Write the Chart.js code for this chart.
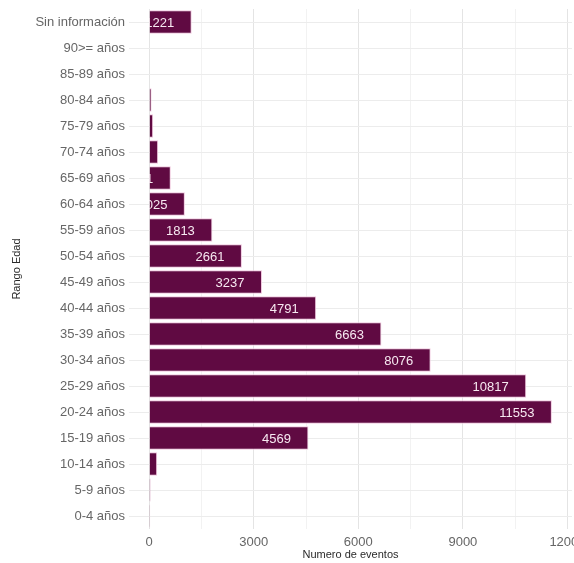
<!DOCTYPE html>
<html><head><meta charset="utf-8">
<script src="https://cdn.jsdelivr.net/npm/chart.js@4/dist/chart.umd.min.js"></script>
<style>html,body{margin:0;padding:0;background:#fff}</style>
</head><body>
<canvas id="c" width="574" height="563"></canvas>
<script>
const categories = ["Sin información","90>= años","85-89 años","80-84 años","75-79 años","70-74 años","65-69 años","60-64 años","55-59 años","50-54 años","45-49 años","40-44 años","35-39 años","30-34 años","25-29 años","20-24 años","15-19 años","10-14 años","5-9 años","0-4 años"];
const eventos = [1221, 0, 0, 70, 115, 258, 621, 1025, 1813, 2661, 3237, 4791, 6663, 8076, 10817, 11553, 4569, 230, 40, 30];
const xTickLabels = [0, 3000, 6000, 9000, 12000];
const xTitle = "Numero de eventos";
const yTitle = "Rango Edad";

const FONT = '"Liberation Sans", Arial, sans-serif';

const labelPlugin = {
  id: 'vals',
  afterDatasetsDraw(chart) {
    const {ctx, chartArea, scales: {x}} = chart;
    const meta = chart.getDatasetMeta(0);
    const x0 = x.getPixelForValue(0);
    ctx.save();
    ctx.beginPath();
    ctx.rect(x0, chartArea.top, chartArea.right - x0, chartArea.bottom - chartArea.top);
    ctx.clip();
    ctx.fillStyle = '#f7e9f1';
    ctx.font = '13px ' + FONT;
    ctx.textAlign = 'right';
    ctx.textBaseline = 'middle';
    meta.data.forEach((bar, i) => {
      ctx.fillText(String(eventos[i]), bar.x - 17.5, bar.y + 1);
    });
    ctx.restore();
  }
};

// grid positions: major ticks plus the midpoints between them (minor lines)
const xGrid = [];
xTickLabels.forEach((v, i) => {
  xGrid.push(v);
  if (i < xTickLabels.length - 1) xGrid.push((v + xTickLabels[i + 1]) / 2);
});

new Chart(document.getElementById('c'), {
  type: 'bar',
  data: {
    labels: categories,
    datasets: [{
      data: eventos,
      backgroundColor: '#600a42',
      borderColor: '#efc6dd',
      borderWidth: 1,
      borderSkipped: 'start',
      barPercentage: 0.9,
      categoryPercentage: 1
    }]
  },
  options: {
    indexAxis: 'y',
    responsive: false,
    animation: false,
    devicePixelRatio: 1,
    layout: {padding: {top: 9, right: 2, left: 0, bottom: 0}},
    plugins: {legend: {display: false}, tooltip: {enabled: false}},
    scales: {
      x: {
        type: 'linear', min: -578, max: 12130,
        afterBuildTicks(s) { s.ticks = xGrid.map(v => ({value: v})); },
        grid: {
          color: c => (c.tick && xTickLabels.includes(c.tick.value)) ? '#e4e4e4' : '#f2f2f2',
          drawTicks: false, lineWidth: 1
        },
        border: {display: false},
        ticks: {
          autoSkip: false, maxRotation: 0, minRotation: 0,
          padding: 6, color: '#666666',
          font: {family: FONT, size: 13},
          callback: v => xTickLabels.includes(v) ? String(v) : ''
        },
        title: {display: true, text: xTitle, color: '#2a2a2a',
          font: {family: FONT, size: 11}, padding: {top: 0, bottom: 1}},
        afterFit(s) { s.height = 34; s.paddingLeft = 0; s.paddingRight = 0; }
      },
      y: {
        grid: {offset: false, color: '#ececec', drawTicks: false},
        border: {display: false},
        ticks: {
          padding: 4, color: '#666666', autoSkip: false,
          font: {family: FONT, size: 13}
        },
        title: {display: true, text: yTitle, color: '#2a2a2a',
          font: {family: FONT, size: 11}, padding: {top: 10, bottom: 0}},
        afterFit(s) { s.width = 129; s.paddingTop = 0; s.paddingBottom = 0; }
      }
    }
  },
  plugins: [labelPlugin]
});
</script>
</body></html>
